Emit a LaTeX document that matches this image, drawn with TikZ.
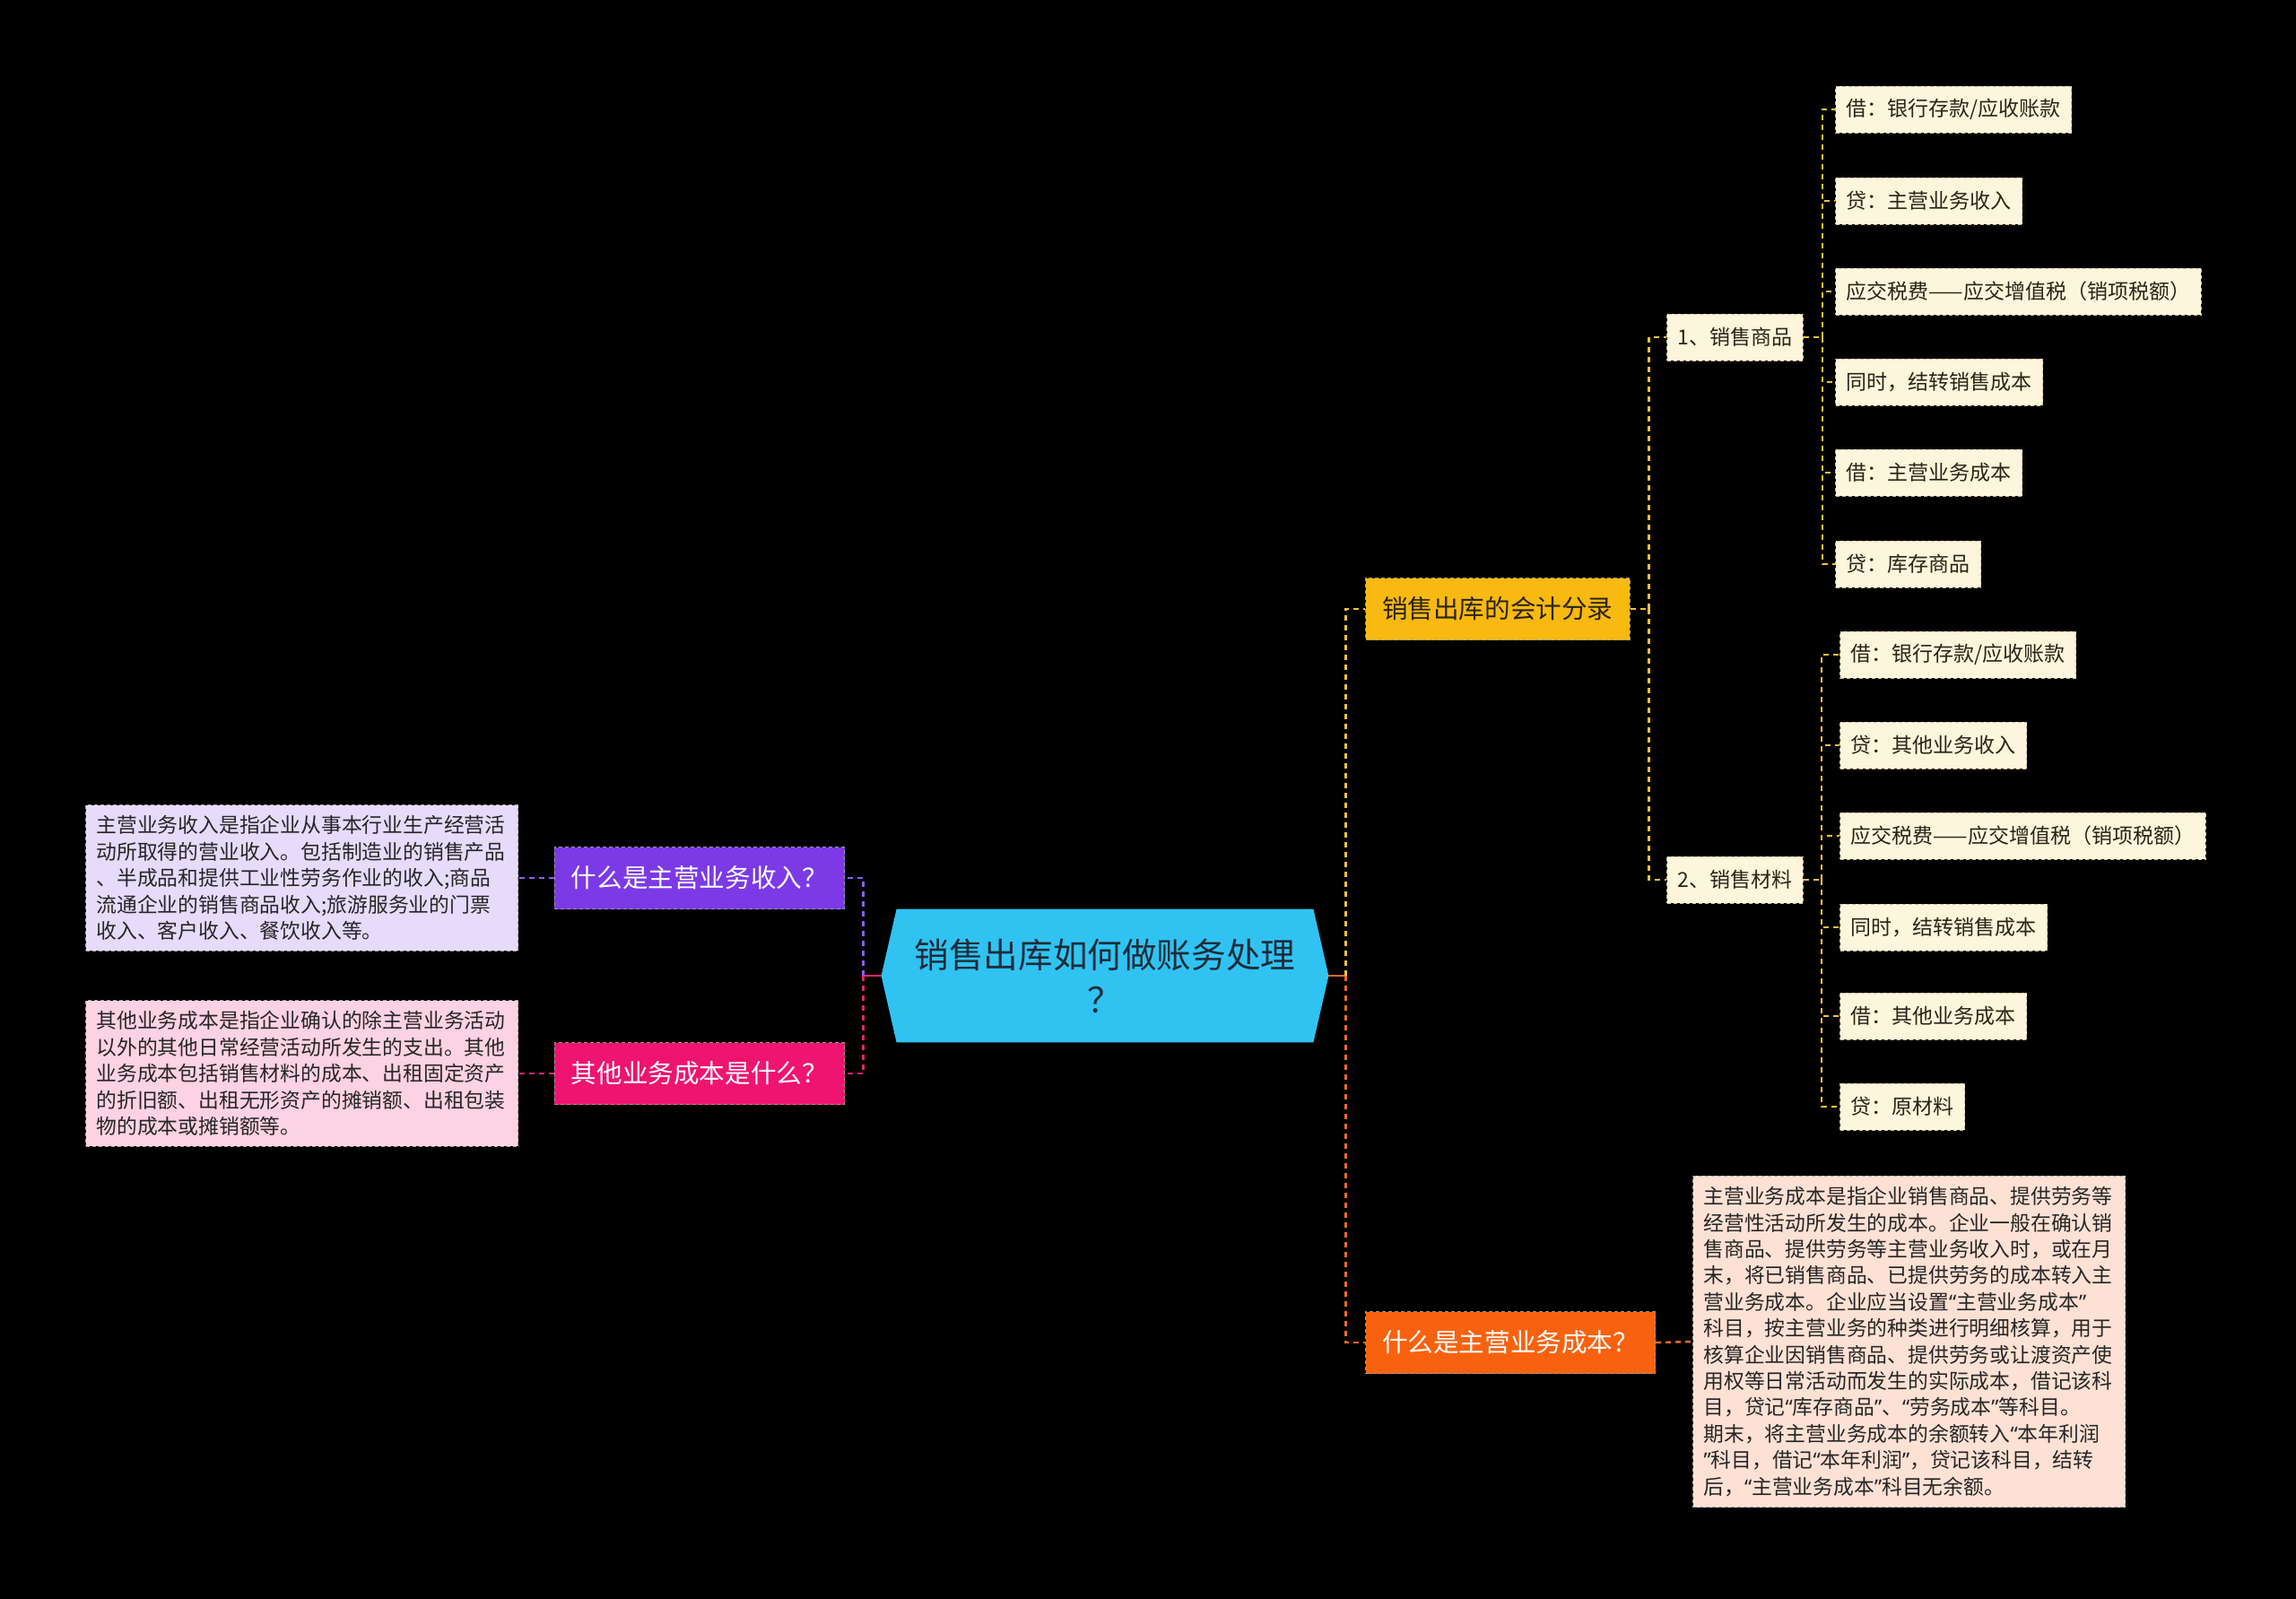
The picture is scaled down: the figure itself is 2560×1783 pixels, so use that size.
\documentclass[tikz,border=0pt]{standalone}
\usepackage{fontspec}
\setmainfont{Noto Sans CJK SC}
\newfontfamily\qfont{Noto Sans}
\newcommand\qopen{{\qfont “}}
\newcommand\qclose{{\qfont ”}}
\usetikzlibrary{backgrounds}
\definecolor{hubfill}{HTML}{30C3F2}
\definecolor{hubtext}{HTML}{1E2C3A}
\definecolor{purp}{HTML}{7B3AE5}
\definecolor{purpline}{HTML}{8E5CF2}
\definecolor{pinkc}{HTML}{EE1470}
\definecolor{pinkline}{HTML}{E3256F}
\definecolor{yell}{HTML}{F8B910}
\definecolor{yellline}{HTML}{F3C23C}
\definecolor{oran}{HTML}{F8620F}
\definecolor{oranline}{HTML}{EE6A2A}
\definecolor{cream}{HTML}{FDF5DC}
\definecolor{creamb}{HTML}{CDBE95}
\definecolor{leaftext}{HTML}{2B2416}
\definecolor{purpdesc}{HTML}{E6DBFA}
\definecolor{pinkdesc}{HTML}{FDD2E2}
\definecolor{orandesc}{HTML}{FDE1D4}
\tikzset{
  conn/.style={line width=1.2pt, dash pattern=on 3pt off 2.5pt},
  mainnode/.style={font=\fontsize{14.3}{17}\selectfont, text=white, inner xsep=9.3pt, inner ysep=0pt,
    minimum height=34.5pt, draw=white!60!black, dash pattern=on 2pt off 1.5pt, line width=0.5pt},
  leafnode/.style={font=\fontsize{11.5}{14}\selectfont, text=leaftext, fill=cream, draw=creamb,
    dash pattern=on 2pt off 1.5pt, line width=0.5pt, inner xsep=6pt, inner ysep=0pt,
    minimum height=26pt, anchor=west},
  descnode/.style={font=\fontsize{11.4}{14.7}\selectfont, text=black!85, align=left,
    text width=229pt, inner xsep=6pt, inner ysep=6pt, draw=black!35, dash pattern=on 2pt off 1.5pt,
    line width=0.5pt}
}
\begin{document}
\begin{tikzpicture}[x=0.5pt,y=-0.5pt]
\useasboundingbox (0,0) rectangle (2560,1783);
\node[minimum width=249pt, minimum height=74pt, inner sep=0pt, align=center,
  font=\fontsize{19.3}{25}\selectfont, text=hubtext] (c) at (1232,1088) {销售出库如何做账务处理\\？};
\begin{pgfonlayer}{background}
\fill[black] (0,0) rectangle (2560,1783);
\fill[hubfill] (c.west) -- ([xshift=8.5pt]c.north west) -- ([xshift=-8.5pt]c.north east) -- (c.east)
  -- ([xshift=-8.5pt]c.south east) -- ([xshift=8.5pt]c.south west) -- cycle;
\end{pgfonlayer}

% left side
\node[mainnode, fill=purp, anchor=east] (q1) at (942,979) {什么是主营业务收入？};
\node[mainnode, fill=pinkc, anchor=east] (q2) at (942,1197) {其他业务成本是什么？};
\node[descnode, fill=purpdesc, anchor=east] (d1) at (578,979) {主营业务收入是指企业从事本行业生产经营活\\动所取得的营业收入。包括制造业的销售产品\\、半成品和提供工业性劳务作业的收入;商品\\流通企业的销售商品收入;旅游服务业的门票\\收入、客户收入、餐饮收入等。};
\node[descnode, fill=pinkdesc, anchor=east] (d2) at (578,1197) {其他业务成本是指企业确认的除主营业务活动\\以外的其他日常经营活动所发生的支出。其他\\业务成本包括销售材料的成本、出租固定资产\\的折旧额、出租无形资产的摊销额、出租包装\\物的成本或摊销额等。};

% right side
\node[mainnode, fill=yell, text=leaftext, anchor=west] (r1) at (1522,679) {销售出库的会计分录};
\node[mainnode, fill=oran, anchor=west] (r2) at (1522,1497) {什么是主营业务成本？};
\node[descnode, fill=orandesc, anchor=west] (d3) at (1887,1496) {主营业务成本是指企业销售商品、提供劳务等\\经营性活动所发生的成本。企业一般在确认销\\售商品、提供劳务等主营业务收入时，或在月\\末，将已销售商品、已提供劳务的成本转入主\\营业务成本。企业应当设置\qopen 主营业务成本\qclose\\科目，按主营业务的种类进行明细核算，用于\\核算企业因销售商品、提供劳务或让渡资产使\\用权等日常活动而发生的实际成本，借记该科\\目，贷记\qopen 库存商品\qclose 、\qopen 劳务成本\qclose 等科目。\\期末，将主营业务成本的余额转入\qopen 本年利润\\\qclose 科目，借记\qopen 本年利润\qclose ，贷记该科目，结转\\后，\qopen 主营业务成本\qclose 科目无余额。};

\node[leafnode] (s1) at (1858,376) {1、销售商品};
\node[leafnode] (s2) at (1858,981) {2、销售材料};

\node[leafnode] (a1) at (2046,122) {借：银行存款/应收账款};
\node[leafnode] (a2) at (2046,224) {贷：主营业务收入};
\node[leafnode] (a3) at (2046,325) {应交税费——应交增值税（销项税额）};
\node[leafnode] (a4) at (2046,426) {同时，结转销售成本};
\node[leafnode] (a5) at (2046,527) {借：主营业务成本};
\node[leafnode] (a6) at (2046,629) {贷：库存商品};

\node[leafnode] (b1) at (2051,730) {借：银行存款/应收账款};
\node[leafnode] (b2) at (2051,831) {贷：其他业务收入};
\node[leafnode] (b3) at (2051,932) {应交税费——应交增值税（销项税额）};
\node[leafnode] (b4) at (2051,1034) {同时，结转销售成本};
\node[leafnode] (b5) at (2051,1133) {借：其他业务成本};
\node[leafnode] (b6) at (2051,1234) {贷：原材料};

% connectors left
\draw[line width=1.2pt, pinkline] (c.west) -- ++(-20,0) coordinate (lj);
\draw[conn, purpline] (lj) |- (q1.east);
\draw[conn, pinkline] (lj) |- (q2.east);
\draw[conn, purpline] (q1.west) -- (d1.east);
\draw[conn, pinkline] (q2.west) -- (d2.east);

% connectors right
\draw[line width=1.2pt, oranline] (c.east) -- ++(19,0) coordinate (rj);
\draw[conn, yellline] (rj) |- (r1.west);
\draw[conn, oranline] (rj) |- (r2.west);
\draw[conn, oranline] (r2.east) -- (d3.west);

\draw[conn, yellline] (r1.east) -- ++(21,0) coordinate (yj);
\draw[conn, yellline] (yj) |- (s1.west);
\draw[conn, yellline] (yj) |- (s2.west);

\draw[conn, yellline] (s1.east) -- ++(21,0) coordinate (g1);
\foreach \n in {a1,a2,a3,a4,a5,a6} \draw[conn, yellline] (g1) |- (\n.west);
\draw[conn, yellline] (s2.east) -- ++(20,0) coordinate (g2);
\foreach \n in {b1,b2,b3,b4,b5,b6} \draw[conn, yellline] (g2) |- (\n.west);
\end{tikzpicture}
\end{document}
